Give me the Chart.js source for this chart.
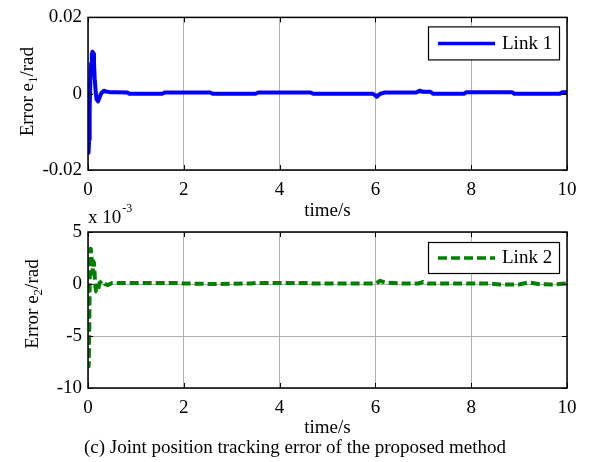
<!DOCTYPE html>
<html>
<head>
<meta charset="utf-8">
<script src="https://cdn.jsdelivr.net/npm/chart.js@4"></script>
<style>
body { margin: 0; background: #fff; }
#wrap { position: relative; width: 590px; height: 462px; overflow: hidden; }
canvas { position: absolute; left: 0; }
#c1 { top: 0; }
#c2 { top: 196px; }
#caption { position: absolute; left: 0; width: 590px; top: 436px; text-align: center;
  font: 19px "Liberation Serif", "Times New Roman", serif; color: #000; }
</style>
</head>
<body>
<div id="wrap">
<canvas id="c1" width="590" height="225"></canvas>
<canvas id="c2" width="590" height="266"></canvas>
<div id="caption">(c) Joint position tracking error of the proposed method</div>
</div>
<script>
// time axis
const xTicks = [0, 2, 4, 6, 8, 10];

// Link 1 error (rad)
const t1 = [0, 0.005, 0.015, 0.025, 0.035, 0.05, 0.065, 0.08, 0.095, 0.11, 0.125, 0.14, 0.16, 0.18, 0.21, 0.24, 0.28, 0.33, 0.38, 0.45, 0.6, 0.82, 0.86, 1.55, 1.6, 2.55, 2.6, 3.5, 3.55, 4.65, 4.7, 5.95, 6.03, 6.1, 6.2, 6.85, 6.93, 7.0, 7.15, 7.2, 7.85, 7.9, 8.85, 8.9, 9.85, 9.9, 10];
const e1 = [0, -0.008, -0.0155, -0.012, -0.004, 0.004, 0.008, 0.0105, 0.011, 0.0105, 0.008, 0.004, 0.0005, -0.0015, -0.002, -0.001, 0.0002, 0.0008, 0.0006, 0.0004, 0.0004, 0.0003, 0.0, 0.0, 0.0003, 0.0003, 0.0, 0.0, 0.0003, 0.0003, 0.0, 0.0, -0.0008, 0.0, 0.0003, 0.0003, 0.0008, 0.0005, 0.0005, 0.0, 0.0, 0.0004, 0.0004, 0.0, 0.0, 0.0004, 0.0004];
const y1Ticks = [-0.02, 0, 0.02];

// Link 2 error (x 10^-3 rad)
const t2 = [0, 0.005, 0.015, 0.025, 0.035, 0.045, 0.055, 0.065, 0.08, 0.095, 0.11, 0.125, 0.14, 0.155, 0.17, 0.2, 0.24, 0.29, 0.35, 0.42, 0.5, 0.6, 1.0, 1.9, 2.0, 2.6, 2.7, 3.4, 3.5, 4.6, 4.7, 6.0, 6.1, 6.2, 6.5, 6.9, 7.0, 7.1, 8.4, 8.6, 9.0, 9.2, 9.4, 9.7, 10];
const e2 = [0, -4, -7.9, -5, 0, 2.5, 3.4, 3.2, 2.0, 1.0, 2.2, 2.0, 0.8, -0.3, -0.7, -0.8, 0.1, 0.3, 0.0, -0.1, 0.1, 0.1, 0.1, 0.1, 0.05, 0.0, 0.0, 0.05, 0.1, 0.1, 0.05, 0.05, 0.3, 0.15, 0.05, 0.05, 0.2, 0.05, 0.05, -0.05, -0.05, 0.15, 0.0, -0.05, 0.05];
const y2Ticks = [-10, -5, 0, 5];

const serif = '"Liberation Serif", "Times New Roman", serif';
const gridGray = '#b0b0b0';

// box around the axes, inward tick marks, legend, ylabel with subscript
const matlabBox = {
  id: 'matlabBox',
  afterDatasetsDraw(chart, args, opts) {
    const { ctx, chartArea: a, scales } = chart;
    ctx.save();
    ctx.strokeStyle = '#000';
    ctx.lineWidth = 1;
    ctx.beginPath();
    scales.x.ticks.forEach(tk => {
      const px = Math.round(scales.x.getPixelForValue(tk.value)) + 0.5;
      ctx.moveTo(px, a.top); ctx.lineTo(px, a.top + 5);
      ctx.moveTo(px, a.bottom); ctx.lineTo(px, a.bottom - 5);
    });
    scales.y.ticks.forEach(tk => {
      const py = Math.round(scales.y.getPixelForValue(tk.value)) + 0.5;
      ctx.moveTo(a.left, py); ctx.lineTo(a.left + 5, py);
      ctx.moveTo(a.right, py); ctx.lineTo(a.right - 5, py);
    });
    ctx.stroke();
    ctx.lineWidth = 1.5;
    ctx.strokeRect(a.left, a.top, a.right - a.left, a.bottom - a.top);

    // legend
    const ds = chart.data.datasets[0];
    const bw = 131, bh = opts.legendH;
    const bx = a.right - 8 - bw, by = a.top + opts.legendTop;
    ctx.fillStyle = '#fff';
    ctx.fillRect(bx, by, bw, bh);
    ctx.lineWidth = 1.2;
    ctx.strokeStyle = '#000';
    ctx.strokeRect(bx + 0.5, by + 0.5, bw, bh);
    ctx.strokeStyle = ds.borderColor;
    ctx.lineWidth = 3.5;
    ctx.setLineDash(ds.borderDash || []);
    ctx.beginPath();
    ctx.moveTo(bx + 10, by + bh / 2 + 0.5);
    ctx.lineTo(bx + 67, by + bh / 2 + 0.5);
    ctx.stroke();
    ctx.setLineDash([]);
    ctx.fillStyle = '#000';
    ctx.font = '19px ' + serif;
    ctx.textBaseline = 'middle';
    ctx.textAlign = 'left';
    ctx.fillText(ds.label, bx + 74, by + bh / 2 + 1);

    // y label
    ctx.translate(opts.ylabX, (a.top + a.bottom) / 2 + opts.ylabShift);
    ctx.rotate(-Math.PI / 2);
    const big = '19px ' + serif, small = '13px ' + serif;
    const parts = [['Error e', big, 0], [opts.sub, small, 6], ['/rad', big, 0]];
    let total = 0;
    parts.forEach(p => { ctx.font = p[1]; total += ctx.measureText(p[0]).width; });
    let x = -total / 2;
    parts.forEach(p => {
      ctx.font = p[1];
      ctx.fillText(p[0], x, p[2]);
      x += ctx.measureText(p[0]).width;
    });
    ctx.restore();

    if (opts.exponent) {
      ctx.save();
      ctx.fillStyle = '#000';
      ctx.textAlign = 'left';
      ctx.textBaseline = 'alphabetic';
      ctx.font = '19px ' + serif;
      ctx.fillText('x 10', a.left, a.top - 9);
      const w = ctx.measureText('x 10').width;
      ctx.font = '12px ' + serif;
      ctx.fillText('-3', w + a.left + 1, a.top - 20);
      ctx.restore();
    }
  }
};

function makeChart(id, t, e, yTicks, ds, box, xHeight, titlePad, fmt) {
  return new Chart(document.getElementById(id), {
    type: 'line',
    data: {
      datasets: [Object.assign({
        data: t.map((v, i) => ({ x: v, y: e[i] })),
        pointRadius: 0,
        tension: 0,
        fill: false,
        borderJoinStyle: 'round'
      }, ds)]
    },
    options: {
      responsive: false,
      animation: false,
      layout: { padding: { left: 0, right: 23, top: box.top, bottom: 0 } },
      plugins: { legend: { display: false }, tooltip: { enabled: false }, matlabBox: box },
      scales: {
        x: {
          type: 'linear',
          min: xTicks[0], max: xTicks[xTicks.length - 1],
          afterBuildTicks: s => { s.ticks = xTicks.map(v => ({ value: v })); },
          afterFit: s => { s.height = xHeight; },
          grid: { color: gridGray, drawTicks: false, lineWidth: 1 },
          border: { display: false },
          ticks: { color: '#000', padding: 9, font: { family: serif, size: 19 }, maxRotation: 0 },
          title: { display: true, text: 'time/s', color: '#000', font: { family: serif, size: 19, lineHeight: 1 }, padding: { top: 0, bottom: titlePad } }
        },
        y: {
          min: yTicks[0], max: yTicks[yTicks.length - 1],
          afterBuildTicks: s => { s.ticks = yTicks.map(v => ({ value: v })); },
          afterFit: s => { s.width = 88; },
          grid: { color: gridGray, drawTicks: false, lineWidth: 1 },
          border: { display: false },
          ticks: { color: '#000', padding: 6, font: { family: serif, size: 19 }, callback: fmt }
        }
      }
    },
    plugins: [matlabBox]
  });
}

makeChart('c1', t1, e1, y1Ticks,
  { label: 'Link 1', borderColor: '#0000ff', borderWidth: 4 },
  { top: 15, legendTop: 9, legendH: 33, ylabX: 28, ylabShift: -2, sub: '1', exponent: false },
  55, 4,
  v => Math.abs(v) < 1e-9 ? '0' : v.toFixed(2));

makeChart('c2', t2, e2, y2Ticks,
  { label: 'Link 2', borderColor: '#008000', borderWidth: 4, borderDash: [9, 4] },
  { top: 36, legendTop: 10, legendH: 31, ylabX: 33, ylabShift: -6, sub: '2', exponent: true },
  74, 24,
  v => String(v));
</script>
</body>
</html>
